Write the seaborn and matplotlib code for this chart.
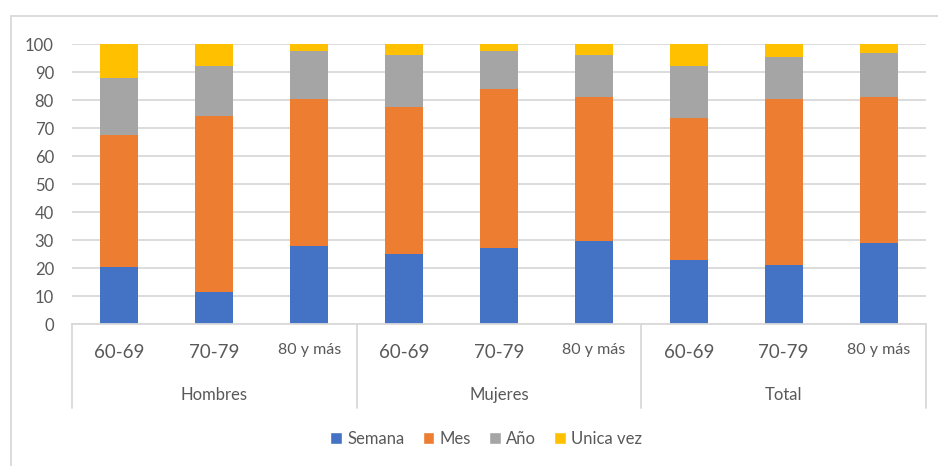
import matplotlib
matplotlib.use("Agg")
import matplotlib.pyplot as plt
from matplotlib.lines import Line2D
from matplotlib.patches import Patch
import seaborn as sns
import pandas as pd
import numpy as np

# datos
grupos = ["Hombres", "Mujeres", "Total"]
edades = ["60-69", "70-79", "80 y más"]
series = ["Semana", "Mes", "Año", "Unica vez"]
semana = [20.6, 11.5, 28.1, 25.0, 27.4, 29.6, 22.9, 21.3, 28.9]
mes = [47.1, 63.0, 52.3, 52.5, 56.8, 51.5, 50.9, 59.1, 52.2]
ano = [20.2, 17.9, 17.3, 18.6, 13.5, 15.0, 18.6, 15.0, 15.8]
unica = [12.1, 7.6, 2.3, 3.9, 2.3, 3.9, 7.6, 4.6, 3.1]

colores = ["#4472c4", "#ed7d31", "#a5a5a5", "#ffc000"]
gris_txt = "#595959"
gris_lin = "#d9d9d9"

sns.set_style("white")
plt.rcParams["font.family"] = ["Lato", "DejaVu Sans"]

cats = [f"{g} {e}" for g in grupos for e in edades]
df = pd.DataFrame({"cat": cats, "Semana": semana, "Mes": mes, "Año": ano, "Unica vez": unica})

fig = plt.figure(figsize=(9.38, 4.66), dpi=100)
ax = fig.add_axes([72 / 938, (466 - 324.3) / 466, (926 - 72) / 938, 280 / 466])

# barras apiladas
base = np.zeros(len(cats))
for s, c in zip(series, colores):
    sns.barplot(data=df, x="cat", y=s, order=cats, color=c, width=0.4,
                bottom=base, linewidth=0, saturation=1, ax=ax)
    base = base + df[s].values

ax.set_xlim(-0.5, len(cats) - 0.5)
ax.set_ylim(0, 100)
ax.set_yticks(range(0, 101, 10))
ax.yaxis.grid(True, color=gris_lin, linewidth=1.3)
ax.set_axisbelow(True)
for sp in ["top", "right", "left"]:
    ax.spines[sp].set_visible(False)
ax.spines["bottom"].set_color(gris_lin)
ax.spines["bottom"].set_linewidth(1.3)
ax.tick_params(axis="y", length=0, pad=13, labelsize=12, labelcolor=gris_txt)
ax.set_xticks([])
ax.set_xlabel("")
ax.set_ylabel("")

# eje de categorias en dos niveles
tr = ax.get_xaxis_transform()
for i in range(len(grupos) + 1):
    xv = i * len(edades) - 0.5
    ax.plot([xv, xv], [0, -0.30], transform=tr, color=gris_lin, lw=1.3, clip_on=False)
for gi, g in enumerate(grupos):
    for ei, e in enumerate(edades):
        xi = gi * len(edades) + ei
        if e == "80 y más":
            ax.text(xi, -0.092, e, transform=tr, ha="center", va="center",
                    fontsize=11.5, color=gris_txt)
        else:
            ax.text(xi, -0.102, e, transform=tr, ha="center", va="center",
                    fontsize=13.5, color=gris_txt)
    ax.text(gi * len(edades) + 1, -0.252, g, transform=tr, ha="center",
            va="center", fontsize=12, color=gris_txt)

# leyenda
handles = [Patch(facecolor=c, label=s) for s, c in zip(series, colores)]
fig.legend(handles=handles, loc="center", bbox_to_anchor=(486 / 938, 1 - 439 / 466),
           ncol=4, frameon=False, fontsize=12, handlelength=0.7, handleheight=0.7,
           handletextpad=0.3, columnspacing=1.1, labelcolor=gris_txt)

# borde del area del grafico
fig.add_artist(Line2D([11 / 938, 11 / 938], [0, 1 - 16 / 466], color=gris_lin, lw=1.3))
fig.add_artist(Line2D([11 / 938, 1], [1 - 16 / 466, 1 - 16 / 466], color=gris_lin, lw=1.3))

fig.savefig("out.png", dpi=100)
